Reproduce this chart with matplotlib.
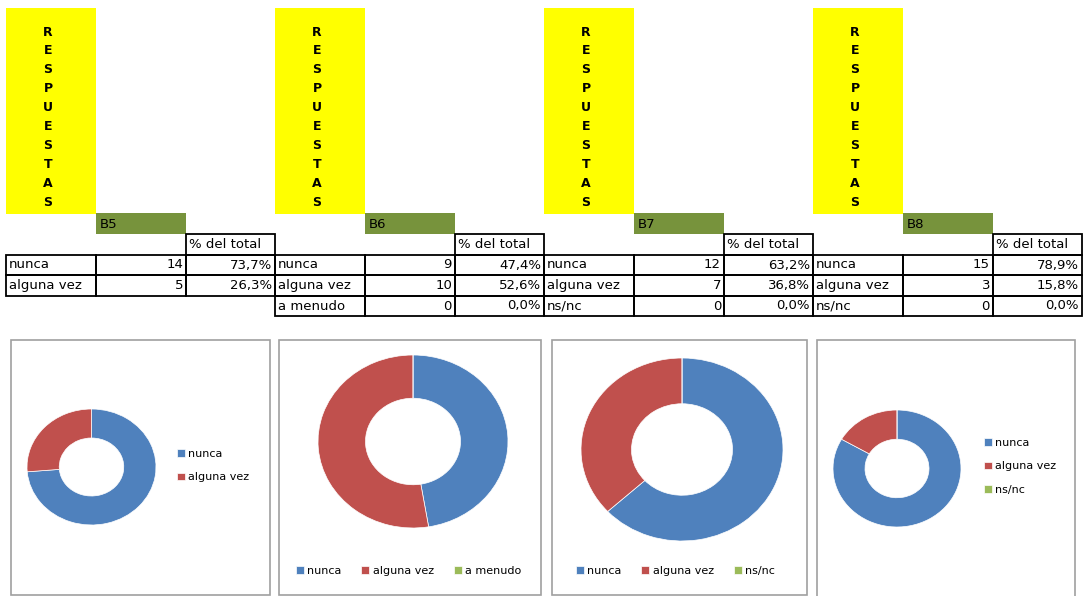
import matplotlib
matplotlib.use('Agg')
import matplotlib.pyplot as plt
from matplotlib.patches import Rectangle

# data
blocks = ['B5', 'B6', 'B7', 'B8']
b5_labels = ['nunca', 'alguna vez']
b5_counts = [14, 5]
b6_labels = ['nunca', 'alguna vez', 'a menudo']
b6_counts = [9, 10, 0]
b7_labels = ['nunca', 'alguna vez', 'ns/nc']
b7_counts = [12, 7, 0]
b8_labels = ['nunca', 'alguna vez', 'ns/nc']
b8_counts = [15, 3, 0]
total = 19
header_word = 'RESPUESTAS'
pct_header = '% del total'

all_labels = [b5_labels, b6_labels, b7_labels, b8_labels]
all_counts = [b5_counts, b6_counts, b7_counts, b8_counts]
colors = ['#4F81BD', '#C0504D', '#9BBB59']

W, H = 1084, 596
fig = plt.figure(figsize=(W / 100, H / 100), dpi=100)
ax = fig.add_axes([0, 0, 1, 1])
ax.set_xlim(0, W)
ax.set_ylim(H, 0)
ax.axis('off')

# spreadsheet part
block_x = [6, 275, 544, 813]
col_w = [90, 90, 89]
row_y = [234, 255, 275, 296, 316]
tfont = dict(fontsize=9.5, color='black')

for i, x0 in enumerate(block_x):
    # yellow column with stacked letters
    ax.add_patch(Rectangle((x0, 8), 90, 206, facecolor='#FFFF00', edgecolor='none'))
    for k, ch in enumerate(header_word):
        ax.text(x0 + 42, 32 + k * 18.9, ch, ha='center', va='center',
                fontsize=9, fontweight='bold')
    # green block name
    ax.add_patch(Rectangle((x0 + 90, 213), 90, 21, facecolor='#77933C', edgecolor='none'))
    ax.text(x0 + 94, 224, blocks[i], ha='left', va='center', **tfont)

    xs = [x0, x0 + col_w[0], x0 + col_w[0] + col_w[1], x0 + sum(col_w)]
    # header cell
    ax.add_patch(Rectangle((xs[2], row_y[0]), xs[3] - xs[2], row_y[1] - row_y[0],
                           facecolor='none', edgecolor='black', lw=1.3))
    ax.text(xs[2] + 3, (row_y[0] + row_y[1]) / 2, pct_header, ha='left', va='center', **tfont)

    for r, (lab, cnt) in enumerate(zip(all_labels[i], all_counts[i])):
        y0, y1 = row_y[r + 1], row_y[r + 2]
        yc = (y0 + y1) / 2
        for c in range(3):
            ax.add_patch(Rectangle((xs[c], y0), xs[c + 1] - xs[c], y1 - y0,
                                   facecolor='none', edgecolor='black', lw=1.3))
        pct = ('%.1f' % (100.0 * cnt / total)).replace('.', ',') + '%'
        ax.text(xs[0] + 3, yc, lab, ha='left', va='center', **tfont)
        ax.text(xs[2] - 3, yc, str(cnt), ha='right', va='center', **tfont)
        ax.text(xs[3] - 3, yc, pct, ha='right', va='center', **tfont)

# chart frames
frames = [(11, 340, 270, 595), (279, 340, 541, 595), (552, 340, 807, 595), (817, 340, 1075, 600)]
for (x0, y0, x1, y1) in frames:
    ax.add_patch(Rectangle((x0, y0), x1 - x0, y1 - y0, facecolor='white',
                           edgecolor='#A0A0A0', lw=1.2))

# donuts (center x, center y, width, height) in pixels
donuts = [(91.5, 467, 129, 116), (413, 441.5, 190, 173), (682, 449.5, 202, 183), (897, 468.5, 128, 117)]
legend_pos = [(177, 449, 1), (296, 566, 3), (576, 566, 3), (984, 438, 1)]

for i, (cx, cy, w, h) in enumerate(donuts):
    pax = fig.add_axes([(cx - w / 2) / W, 1 - (cy + h / 2) / H, w / W, h / H])
    wedges, _ = pax.pie(all_counts[i], colors=colors[:len(all_counts[i])], startangle=90,
                        counterclock=False, radius=1,
                        wedgeprops=dict(width=0.5, edgecolor='white', linewidth=0.5))
    pax.set_aspect('auto')
    pax.set_xlim(-1, 1)
    pax.set_ylim(-1, 1)
    pax.axis('off')

    lx, ly, ncol = legend_pos[i]
    fig.legend(wedges, all_labels[i], loc='upper left', bbox_to_anchor=(lx, ly),
               bbox_transform=ax.transData, ncol=ncol, frameon=False, fontsize=8,
               handlelength=0.7, handleheight=0.7, handletextpad=0.3,
               labelspacing=1.2, columnspacing=1.8, borderpad=0, borderaxespad=0)

fig.savefig('out.png', dpi=100)
